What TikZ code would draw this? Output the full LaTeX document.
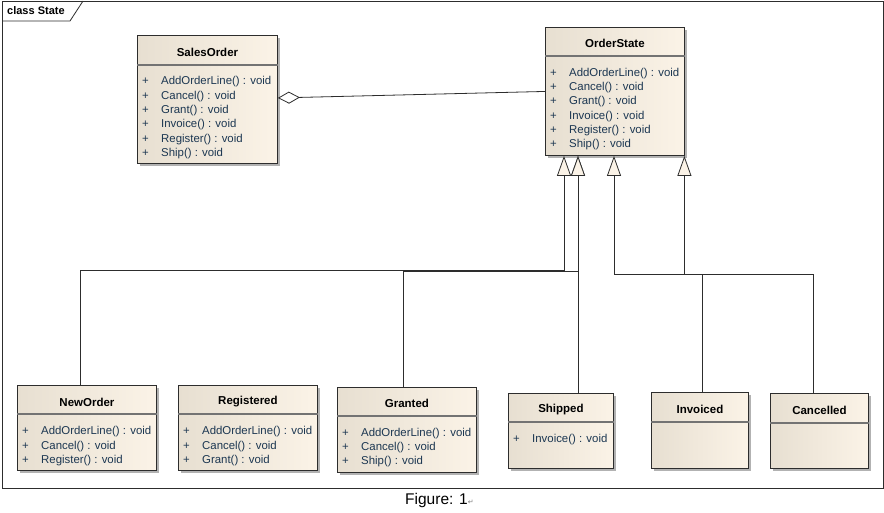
\documentclass[tikz,border=0pt]{standalone}
\usepackage{fontspec}
\setmainfont{Liberation Sans}
\newfontfamily\symfont{DejaVu Sans}
\usetikzlibrary{arrows.meta,shadows}

\definecolor{classleft}{RGB}{231,223,209}
\definecolor{classright}{RGB}{251,243,231}
\definecolor{optext}{RGB}{28,55,82}
\definecolor{umlline}{RGB}{45,45,45}

\tikzset{
  classbox/.style={draw=umlline, line width=0.9pt, anchor=north west, inner sep=0pt,
    left color=classleft, right color=classright,
    drop shadow={shadow xshift=3pt, shadow yshift=-3pt, fill=black, opacity=0.3}},
  classname/.style={font=\fontsize{11.5}{13}\selectfont\bfseries},
  opline/.style={anchor=west, inner sep=0pt, yshift=-2pt, text=optext, font=\fontsize{11.4}{13}\selectfont,
    execute at begin node={\makebox[19pt][l]{+}}},
  divider/.style={draw=black!55, line width=1.1pt},
  frameline/.style={draw=umlline, line width=0.8pt},
  generalize/.style={draw=umlline, line width=0.8pt, -{Triangle[fill=classright, length=20pt, width=14pt]}},
  aggregate/.style={draw=umlline, line width=0.8pt, {Diamond[fill=white, length=22pt, width=12pt]}-},
}

\begin{document}
\begin{tikzpicture}[x=1pt, y=-1pt]
    \useasboundingbox (0,0) rectangle (884,513);

    % frame
    \draw[frameline] (2,1) rectangle (883,488);
    \draw[frameline] (2,21) -- (70,21) -- (83,1);
    \node[anchor=west, inner sep=0pt, font=\fontsize{11}{12}\selectfont\bfseries] (frametitle) at (7,11) {class State};

    % classes
    \node[classbox, minimum width=140pt, minimum height=128pt] (salesorder) at (137,35) {};
    \node[classbox, minimum width=139pt, minimum height=128pt] (orderstate) at (545,27) {};
    \node[classbox, minimum width=139pt, minimum height=85pt] (neworder) at (17,385) {};
    \node[classbox, minimum width=139pt, minimum height=85pt] (registered) at (178,385) {};
    \node[classbox, minimum width=139pt, minimum height=85pt] (granted) at (337,387) {};
    \node[classbox, minimum width=105pt, minimum height=75pt] (shipped) at (508,393) {};
    \node[classbox, minimum width=97pt, minimum height=76pt] (invoiced) at (651,392) {};
    \node[classbox, minimum width=98pt, minimum height=75pt] (cancelled) at (770,393) {};

    \draw[divider] ([yshift=-30pt]salesorder.north west) -- ([yshift=-30pt]salesorder.north east);
    \draw[divider] ([yshift=-29pt]orderstate.north west) -- ([yshift=-29pt]orderstate.north east);
    \draw[divider] ([yshift=-29pt]neworder.north west) -- ([yshift=-29pt]neworder.north east);
    \draw[divider] ([yshift=-29pt]registered.north west) -- ([yshift=-29pt]registered.north east);
    \draw[divider] ([yshift=-29pt]granted.north west) -- ([yshift=-29pt]granted.north east);
    \draw[divider] ([yshift=-29pt]shipped.north west) -- ([yshift=-29pt]shipped.north east);
    \draw[divider] ([yshift=-30pt]invoiced.north west) -- ([yshift=-30pt]invoiced.north east);
    \draw[divider] ([yshift=-30pt]cancelled.north west) -- ([yshift=-30pt]cancelled.north east);

    \node[classname] (salesorder-name) at ([yshift=-17pt]salesorder.north) {SalesOrder};
    \node[classname] (orderstate-name) at ([yshift=-16pt]orderstate.north) {OrderState};
    \node[classname] (neworder-name) at ([yshift=-17pt]neworder.north) {NewOrder};
    \node[classname] (registered-name) at ([yshift=-17pt]registered.north) {Registered};
    \node[classname] (granted-name) at ([yshift=-16pt]granted.north) {Granted};
    \node[classname] (shipped-name) at ([yshift=-17pt]shipped.north) {Shipped};
    \node[classname] (invoiced-name) at ([yshift=-17pt]invoiced.north) {Invoiced};
    \node[classname] (cancelled-name) at ([yshift=-17pt]cancelled.north) {Cancelled};

    % operations
    \node[opline] (salesorder-add) at (142,80) {AddOrderLine() : void};
    \node[opline] (salesorder-cancel) at (142,94.5) {Cancel() : void};
    \node[opline] (salesorder-grant) at (142,109) {Grant() : void};
    \node[opline] (salesorder-invoice) at (142,123) {Invoice() : void};
    \node[opline] (salesorder-register) at (142,137.5) {Register() : void};
    \node[opline] (salesorder-ship) at (142,152) {Ship() : void};

    \node[opline] (orderstate-add) at (550,72) {AddOrderLine() : void};
    \node[opline] (orderstate-cancel) at (550,86) {Cancel() : void};
    \node[opline] (orderstate-grant) at (550,100) {Grant() : void};
    \node[opline] (orderstate-invoice) at (550,114.5) {Invoice() : void};
    \node[opline] (orderstate-register) at (550,129) {Register() : void};
    \node[opline] (orderstate-ship) at (550,143) {Ship() : void};

    \node[opline] (neworder-add) at (22,430) {AddOrderLine() : void};
    \node[opline] (neworder-cancel) at (22,444.5) {Cancel() : void};
    \node[opline] (neworder-register) at (22,459) {Register() : void};

    \node[opline] (registered-add) at (183,430) {AddOrderLine() : void};
    \node[opline] (registered-cancel) at (183,444.5) {Cancel() : void};
    \node[opline] (registered-grant) at (183,459) {Grant() : void};

    \node[opline] (granted-add) at (342,432) {AddOrderLine() : void};
    \node[opline] (granted-cancel) at (342,446) {Cancel() : void};
    \node[opline] (granted-ship) at (342,460) {Ship() : void};

    \node[opline] (shipped-invoice) at (513,438) {Invoice() : void};

    % relations
    \coordinate (tipA) at ([xshift=19pt]orderstate.south west);
    \coordinate (tipB) at ([xshift=33pt]orderstate.south west);
    \coordinate (tipC) at ([xshift=69pt]orderstate.south west);
    \coordinate (tipD) at ([xshift=-0.5pt]orderstate.south east);

    \draw[aggregate] ([yshift=1.5pt]salesorder.east) -- (orderstate.west);
    \draw[generalize] ([xshift=63pt]neworder.north west) -- ++(0,-115) -| (tipA);
    \draw[generalize] ([xshift=66pt]granted.north west) -- ++(0,-116) -| (tipB);
    \draw[generalize] (shipped.north -| tipB) -- (tipB);
    \draw[generalize] ([xshift=51pt]invoiced.north west) -- ++(0,-118) -| (tipC);
    \draw[generalize] ([xshift=43pt]cancelled.north west) -- ++(0,-119) -| (tipD);

    % caption
    \node[anchor=base west, inner sep=0pt, font=\fontsize{15.5}{18}\selectfont] (caption) at (405,504)
        {Figure: 1{\symfont\fontsize{7}{8}\selectfont\color{black!50}↵}};
\end{tikzpicture}
\end{document}
